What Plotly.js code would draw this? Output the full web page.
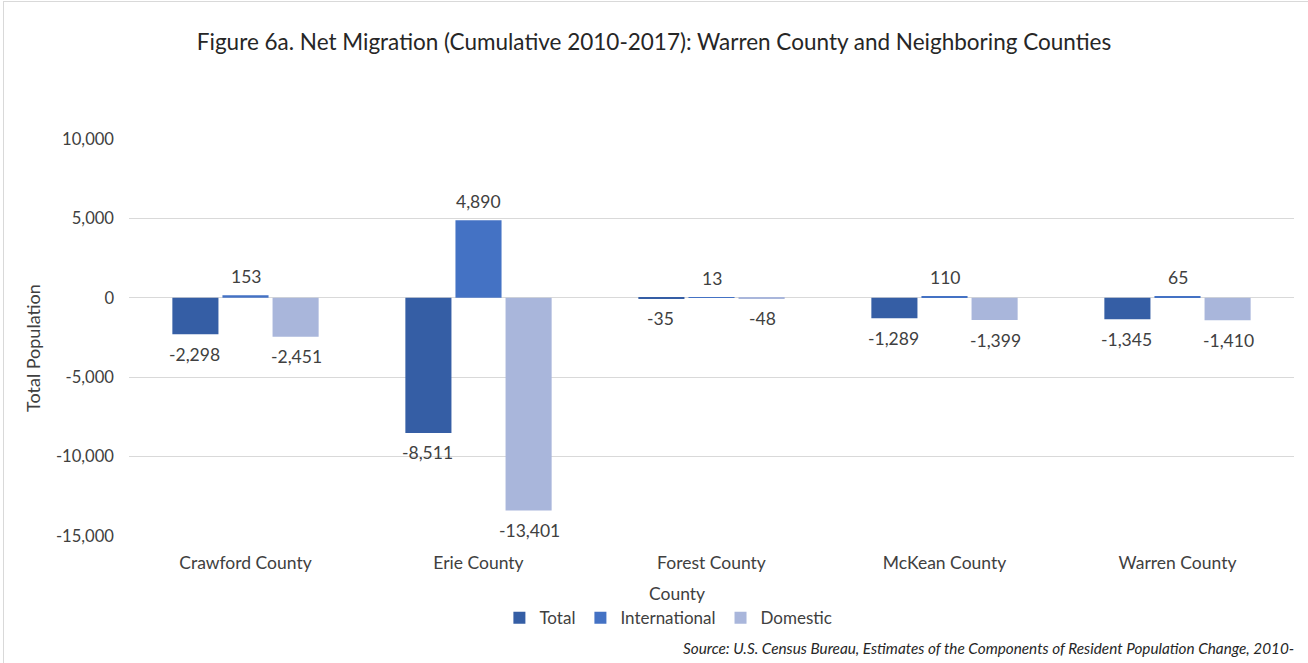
<!DOCTYPE html>
<html>
<head>
<meta charset="utf-8">
<script src="https://cdn.plot.ly/plotly-3.0.1.min.js"></script>
<style>
  html, body { margin: 0; padding: 0; background: #fff; overflow: hidden; }
  #chart { width: 1308px; height: 663px; }
  #frame { position: absolute; left: 3px; top: 1px; width: 1400px; height: 800px;
           border: 1px solid #d9d9d9; pointer-events: none; }
</style>
</head>
<body>
<div id="chart"></div>
<div id="frame"></div>
<script>
const counties = ["Crawford County", "Erie County", "Forest County", "McKean County", "Warren County"];
const totalVals = [-2298, -8511, -35, -1289, -1345];
const internationalVals = [153, 4890, 13, 110, 65];
const domesticVals = [-2451, -13401, -48, -1399, -1410];
const seriesNames = ["Total", "International", "Domestic"];
const seriesColors = ["#355EA5", "#4472C4", "#A9B6DB"];
const yTickVals = [-15000, -10000, -5000, 0, 5000, 10000];
const yTickText = ["-15,000", "-10,000", "-5,000", "0", "5,000", "10,000"];

const fmt = v => v.toLocaleString("en-US");
const FONT = "Lato, 'Open Sans', sans-serif";
const TXT = "#404040";

const allVals = [totalVals, internationalVals, domesticVals];
const traces = allVals.map((vals, i) => ({
  type: "bar",
  name: seriesNames[i],
  x: counties,
  y: vals,
  marker: { color: seriesColors[i] },
  hoverinfo: "x+y+name"
}));

// data labels as annotations anchored to each bar's value
const shifts = [-51, 0, 51];
const labelAnns = [];
allVals.forEach((vals, i) => {
  vals.forEach((v, j) => {
    labelAnns.push({
      xref: "x", yref: "y", x: counties[j], y: v,
      text: fmt(v), showarrow: false,
      xshift: shifts[i], yshift: v >= 0 ? 19 : -20,
      xanchor: "center", yanchor: "middle",
      font: { family: FONT, size: 17.5, color: TXT }
    });
  });
});

const layout = {
  width: 1308, height: 663,
  margin: { l: 129, r: 14, t: 139, b: 127 },
  paper_bgcolor: "#ffffff",
  plot_bgcolor: "#ffffff",
  font: { family: FONT, size: 17, color: TXT },
  title: { text: "Figure 6a. Net Migration (Cumulative 2010-2017): Warren County and Neighboring Counties",
           font: { family: FONT, size: 22.5, color: "#262626" },
           x: 0.5, xref: "container", xanchor: "center", y: 0.937, yref: "container", yanchor: "middle" },
  barmode: "group",
  bargap: 0.355,
  bargroupgap: 0.08,
  showlegend: true,
  legend: { orientation: "h", x: 0.463, xanchor: "center", y: -0.207, yanchor: "middle",
            font: { family: FONT, size: 17, color: TXT }, itemwidth: 30, traceorder: "normal" },
  xaxis: {
    type: "category",
    showgrid: false, showline: false, ticks: "",
    tickfont: { family: FONT, size: 17.5, color: TXT },
    ticklabelstandoff: 14
  },
  yaxis: {
    range: [-15000, 10000],
    tickvals: yTickVals, ticktext: yTickText,
    showgrid: true, gridcolor: "#d9d9d9", gridwidth: 1,
    zeroline: true, zerolinecolor: "#d9d9d9", zerolinewidth: 1,
    layer: "above traces",
    showline: false, ticks: "",
    tickfont: { family: FONT, size: 16.6, color: TXT },
    ticklabelstandoff: 14
  },
  annotations: labelAnns.concat([
    {
      text: "Total Population", xref: "paper", yref: "paper", x: -0.0824, xanchor: "center",
      y: 0.4736, yanchor: "middle", textangle: -90, showarrow: false,
      font: { family: FONT, size: 18, color: TXT }
    },
    {
      text: "County", xref: "paper", yref: "paper", x: 0.470, xanchor: "center",
      y: -0.146, yanchor: "middle", showarrow: false,
      font: { family: FONT, size: 17.5, color: TXT }
    },
    {
      text: "<i>Source: U.S. Census Bureau, Estimates of the Components of Resident Population Change, 2010-</i>",
      xref: "paper", yref: "paper", x: 1.002, xanchor: "right", y: -0.283, yanchor: "middle",
      showarrow: false, font: { family: FONT, size: 15.3, color: "#262626" }
    }
  ])
};

Plotly.newPlot("chart", traces, layout, { displayModeBar: false, responsive: false });
</script>
</body>
</html>
